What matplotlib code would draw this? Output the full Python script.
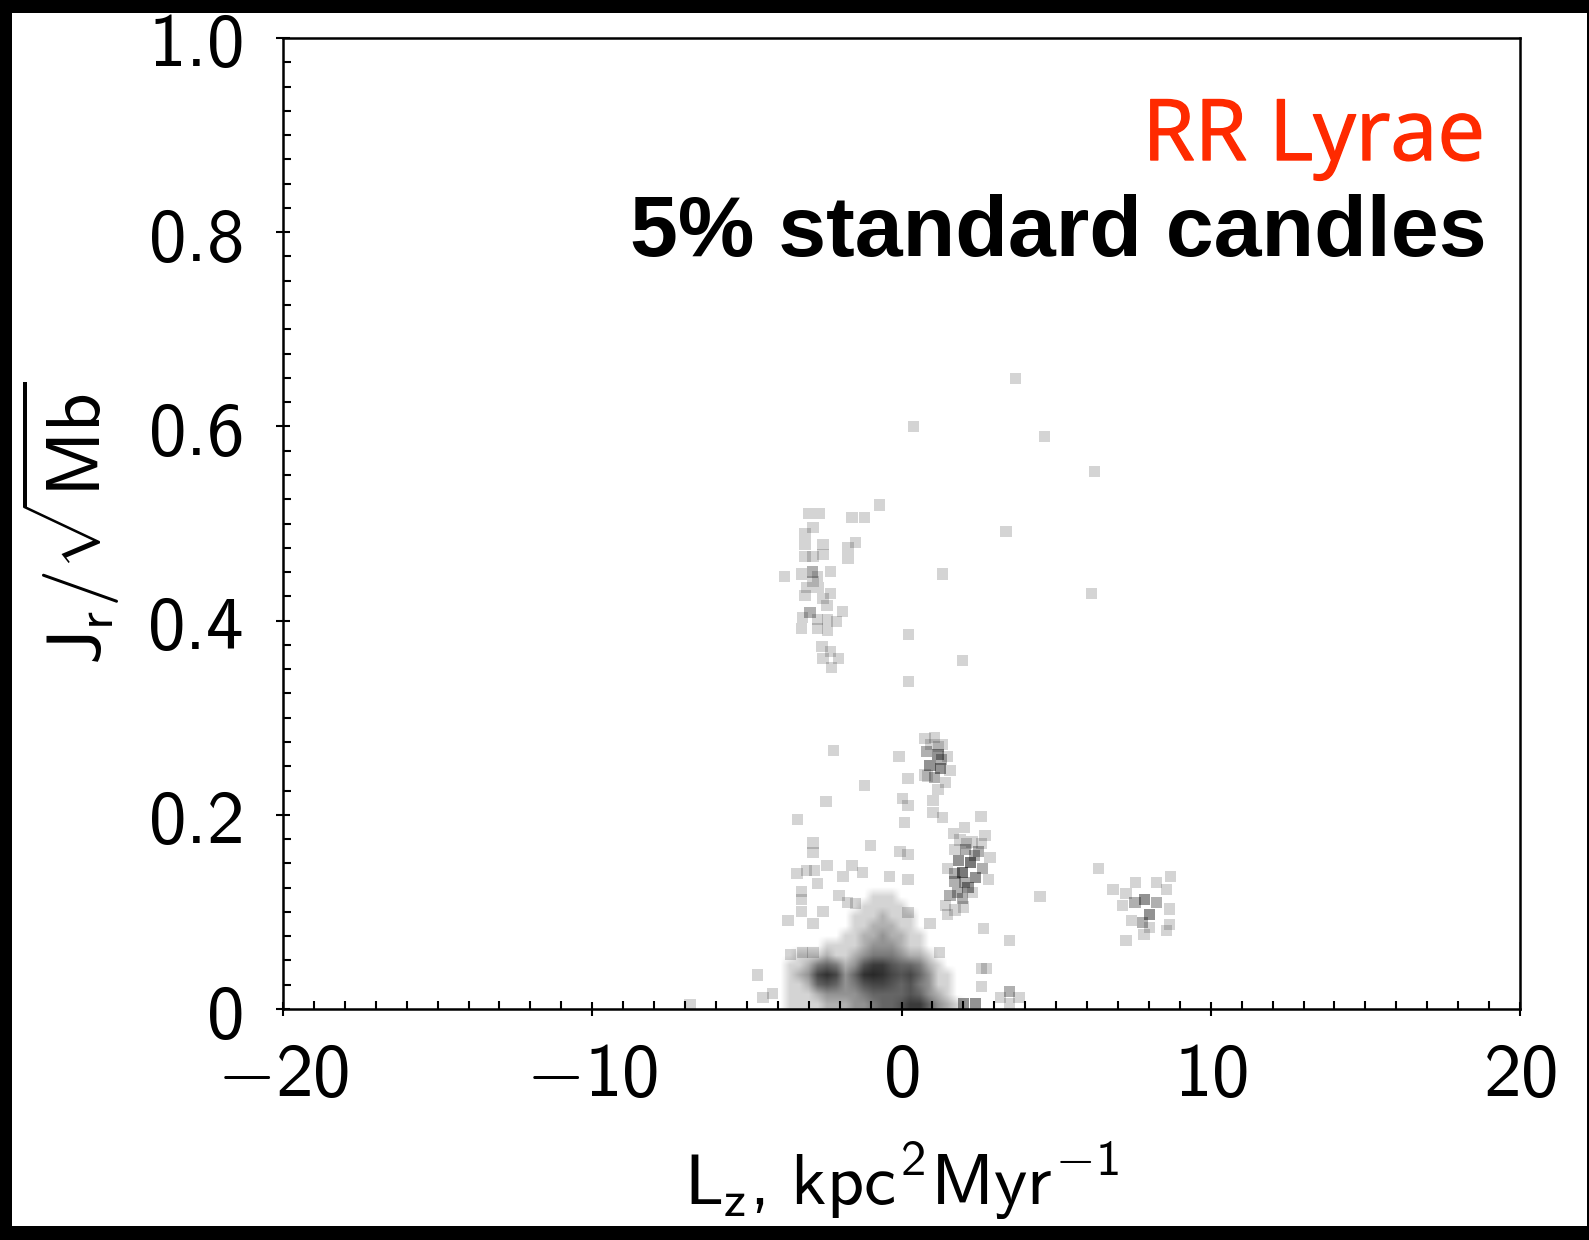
import numpy as np
import matplotlib
matplotlib.use('Agg')
import matplotlib.pyplot as plt
import matplotlib.patheffects as pe
from matplotlib.patches import Rectangle
from matplotlib.ticker import MultipleLocator, FixedLocator, FuncFormatter

plt.rcParams['mathtext.fontset'] = 'custom'
for key in ['rm', 'it', 'bf', 'sf', 'cal']:
    plt.rcParams['mathtext.' + key] = 'cmss10'

# scattered stars: Lz, Jr/sqrt(Mb), number of overlapping stars at that spot
pts_lz = [3.70, 0.40, 4.61, 6.23, -0.70, -1.60, -1.21, 3.38, 1.34, 6.13, 0.24, 1.96, 0.24,
          -1.50, -1.73, -1.73,
          # group near Lz=-3, Jr=0.45
          -3.02, -2.64, -2.86, -3.12, -3.12, -2.54, -2.54, -3.12, -2.86, -3.77, -3.22, -2.89,
          -2.31, -2.73, -2.86, -3.06, -2.70, -3.12, -2.31, -2.54, -2.41, -1.92, -2.96, -3.19,
          -2.73, -2.38, -2.09, -3.22, -2.73, -2.38, -2.57, -2.31, -2.54, -2.05, -2.25,
          # middle field
          -2.21, -0.08, 0.21, -1.21, -2.44, 0.02, 0.21, -3.35, 0.11, 2.57, 2.05, 1.67,
          # clump at Lz=1, Jr=0.25
          0.76, 1.08, 1.31, 0.82, 1.18, 1.50, 0.92, 1.25, 1.57, 0.76, 1.08, 1.41, 1.18, 1.02,
          1.02, 1.34, 0.95, 1.30, 0.85, 1.20,
          # clump at Lz=2, Jr=0.15
          2.70, 1.89, 2.28, 1.73, 2.06, 2.48, 2.86, 1.83, 2.22, 2.61, 1.50, 1.96, 2.38, 2.80,
          1.73, 2.15, 1.57, 1.96, 1.41, 1.73, 1.50, 2.10, 2.35, 1.70, 2.05, 2.30, 1.80, 2.60,
          2.00,
          # lower field
          -0.99, -2.86, -2.86, -0.05, 0.21, -1.60, -2.41, -1.25, -3.38, -3.06, -2.80, -1.89,
          -0.40, 0.21, -3.22, -3.22, -2.73, 4.48, -2.02, -1.76, -1.50, -3.22, -2.54, -3.67,
          -2.86, 0.92, 2.64, 3.48, 0.21, -3.60, -3.19, -2.86, 1.24, 2.60, 2.76, 2.60, -4.67,
          -4.48, -4.16, -6.84,
          2.00, 2.40, 3.20, 3.50, 3.80, 3.50,
          # clump at Lz=8, Jr=0.1
          6.36, 7.58, 8.26, 8.71, 6.84, 7.26, 8.58, 7.87, 7.16, 7.55, 8.26, 8.68, 8.03, 7.45,
          7.78, 8.03, 8.68, 8.58, 7.26, 7.84]
pts_jr = [0.649, 0.600, 0.590, 0.554, 0.519, 0.506, 0.506, 0.492, 0.448, 0.428, 0.386, 0.359, 0.337,
          0.480, 0.475, 0.464,
          0.510, 0.510, 0.496, 0.490, 0.478, 0.478, 0.468, 0.466, 0.466, 0.445, 0.448, 0.450,
          0.451, 0.445, 0.440, 0.434, 0.434, 0.426, 0.428, 0.423, 0.416, 0.409, 0.408, 0.403,
          0.401, 0.401, 0.399, 0.392, 0.392, 0.390, 0.373, 0.368, 0.361, 0.361, 0.352,
          0.266, 0.260, 0.237, 0.230, 0.214, 0.217, 0.210, 0.195, 0.192, 0.198, 0.187, 0.181,
          0.279, 0.280, 0.272, 0.265, 0.262, 0.260, 0.251, 0.248, 0.246, 0.241, 0.238, 0.233,
          0.226, 0.215, 0.202, 0.197, 0.272, 0.257, 0.240, 0.270,
          0.179, 0.174, 0.172, 0.164, 0.164, 0.162, 0.156, 0.153, 0.151, 0.145, 0.145, 0.141,
          0.135, 0.133, 0.131, 0.125, 0.117, 0.114, 0.107, 0.102, 0.097, 0.170, 0.158, 0.140,
          0.130, 0.120, 0.120, 0.170, 0.105,
          0.168, 0.171, 0.161, 0.162, 0.159, 0.148, 0.148, 0.141, 0.140, 0.143, 0.143, 0.136,
          0.136, 0.133, 0.121, 0.113, 0.129, 0.116, 0.117, 0.110, 0.109, 0.100, 0.100, 0.091,
          0.088, 0.088, 0.083, 0.071, 0.099, 0.056, 0.058, 0.058, 0.058, 0.042, 0.042, 0.023,
          0.035, 0.012, 0.016, 0.005,
          0.006, 0.006, 0.012, 0.018, 0.012, 0.006,
          0.145, 0.130, 0.130, 0.136, 0.123, 0.119, 0.123, 0.113, 0.107, 0.110, 0.110, 0.103,
          0.097, 0.091, 0.089, 0.084, 0.087, 0.081, 0.071, 0.077]
pts_n = [1] * 16 + \
        [1] * 11 + [2] + [1] * 10 + [2] + [1] * 12 + \
        [1] * 12 + \
        [1, 1, 1, 2, 3, 1, 3, 3, 1, 1, 2, 1, 1, 1, 1, 1, 1, 2, 1, 1] + \
        [1, 1, 1, 1, 2, 2, 1, 3, 4, 2, 1, 4, 3, 1, 2, 3, 2, 2, 1, 1, 1, 1, 2, 2, 2, 1, 2, 1, 1] + \
        [1] * 40 + \
        [3, 3, 1, 2, 1, 1] + \
        [1, 1, 1, 1, 1, 1, 1, 3, 1, 2, 2, 1, 3, 1, 2, 1, 1, 1, 1, 1]

# dense core near the origin: counts on a small grid (rows from high Jr to low Jr)
core_lz = [-3.6, -3.3, -3.0, -2.7, -2.4, -2.1, -1.8, -1.5, -1.2, -0.9, -0.6, -0.3, 0.0,
           0.3, 0.6, 0.9, 1.2, 1.5, 1.8]
core_jr = [0.115, 0.105, 0.095, 0.085, 0.075, 0.065, 0.055, 0.045, 0.035, 0.025, 0.015, 0.005]
core_counts = [
    [0, 0, 0, 0, 0, 0, 0, 0, 0, 1, 1, 1, 0, 0, 0, 0, 0, 0, 0],
    [0, 0, 0, 0, 0, 0, 0, 0, 1, 1, 1, 1, 1, 0, 0, 0, 0, 0, 0],
    [0, 0, 0, 0, 0, 0, 0, 1, 1, 1, 2, 1, 1, 1, 0, 0, 0, 0, 0],
    [0, 0, 0, 0, 0, 0, 0, 1, 1, 2, 2, 2, 1, 1, 0, 0, 0, 0, 0],
    [0, 0, 0, 0, 0, 0, 1, 1, 2, 2, 3, 2, 2, 1, 1, 0, 0, 0, 0],
    [0, 0, 0, 0, 1, 1, 1, 1, 2, 3, 3, 3, 2, 1, 1, 0, 0, 0, 0],
    [0, 1, 1, 1, 2, 1, 1, 2, 3, 4, 4, 4, 3, 2, 2, 1, 0, 0, 0],
    [1, 1, 2, 4, 5, 4, 2, 3, 6, 8, 8, 6, 5, 5, 4, 2, 1, 0, 0],
    [1, 2, 3, 7, 9, 7, 3, 5, 9, 10, 9, 7, 6, 7, 5, 3, 1, 1, 0],
    [1, 1, 2, 5, 6, 5, 3, 4, 6, 7, 7, 6, 5, 6, 4, 3, 1, 1, 0],
    [1, 1, 1, 2, 3, 3, 3, 3, 4, 5, 5, 5, 5, 6, 5, 3, 2, 1, 0],
    [1, 1, 1, 1, 2, 2, 2, 3, 3, 4, 5, 5, 6, 8, 8, 5, 3, 2, 1],
]

x_ticks = [-20, -10, 0, 10, 20]
y_ticks = [0, 0.2, 0.4, 0.6, 0.8, 1.0]

one_alpha = 0.17


def shade(n):
    a = 1 - (1 - one_alpha) ** np.asarray(n, dtype=float)
    rgba = np.zeros(a.shape + (4,))
    rgba[..., 3] = a
    return rgba


fig = plt.figure(figsize=(15.89, 12.40), dpi=100, facecolor='black')
fig.patches.append(Rectangle((12 / 1589, 14 / 1240), 1575 / 1589, 1213 / 1240,
                             transform=fig.transFigure, facecolor='white',
                             edgecolor='none', zorder=-5))
ax = fig.add_axes([283 / 1589, 1 - 1009 / 1240, 1237 / 1589, 971 / 1240])

# pad the core with empty cells on the left, right and top so it fades out softly
dx = core_lz[1] - core_lz[0]
dy = core_jr[0] - core_jr[1]
core = np.pad(np.array(core_counts), ((1, 0), (1, 1)))
ax.imshow(shade(core), interpolation='bilinear', aspect='auto', origin='upper',
          extent=[core_lz[0] - 1.5 * dx, core_lz[-1] + 1.5 * dx,
                  core_jr[-1] - dy / 2, core_jr[0] + 1.5 * dy])
ax.scatter(pts_lz, pts_jr, s=64, marker='s', c=shade(pts_n), linewidths=0)

ax.set_xlim(-20, 20)
ax.set_ylim(0, 1.0)
ax.xaxis.set_major_locator(FixedLocator(x_ticks))
ax.yaxis.set_major_locator(FixedLocator(y_ticks))
ax.xaxis.set_minor_locator(MultipleLocator(1))
ax.yaxis.set_minor_locator(MultipleLocator(0.025))


def fmt_x(v, p):
    return r'$%d$' % round(v)


def fmt_y(v, p):
    s = '0' if abs(v) < 1e-9 else '%.1f' % v
    return r'$%s$' % s


ax.xaxis.set_major_formatter(FuncFormatter(fmt_x))
ax.yaxis.set_major_formatter(FuncFormatter(fmt_y))
ax.tick_params(which='major', direction='inout', length=10.5, width=1.5, labelsize=54)
ax.tick_params(axis='x', which='major', pad=16)
ax.tick_params(axis='y', which='major', pad=24)
ax.tick_params(which='minor', direction='in', length=5.5, width=1.5)
ax.tick_params(top=False, right=False, which='both')
for sp in ax.spines.values():
    sp.set_linewidth(1.8)

ax.set_xlabel(r'$L_z,\,kpc^2Myr^{-1}$', fontsize=52)
ax.set_ylabel(r'$J_r/\sqrt{Mb}$', fontsize=54)
ax.xaxis.set_label_coords(0.5, -0.135)
ax.yaxis.set_label_coords(-0.130, 0.5)

fig.text(1485 / 1589, 1 - 160 / 1240, 'RR Lyrae', color='#ff2a00', fontsize=61,
         family='Open Sans', ha='right', va='baseline',
         path_effects=[pe.withStroke(linewidth=1.0, foreground='#ff2a00')])
fig.text(1487 / 1589, 1 - 256 / 1240, '5% standard candles', color='black', fontsize=62,
         family='Liberation Sans', weight='bold', ha='right', va='baseline')

fig.savefig('out.png', dpi=100, facecolor=fig.get_facecolor())
